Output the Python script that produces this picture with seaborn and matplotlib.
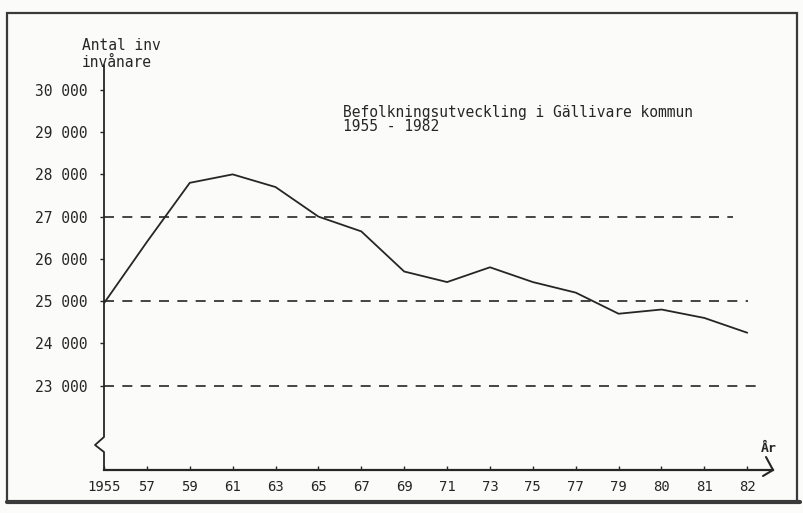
import numpy as np
import pandas as pd
import matplotlib
matplotlib.use("Agg")
import matplotlib.pyplot as plt
from matplotlib.patches import Rectangle
from matplotlib.ticker import FuncFormatter
import seaborn as sns

# data (ticks are evenly spaced, not true years)
years = ["1955", "57", "59", "61", "63", "65", "67", "69",
         "71", "73", "75", "77", "79", "80", "81", "82"]
population = [24950, 26400, 27800, 28000, 27700, 27000, 26650, 25700,
              25450, 25800, 25450, 25200, 24700, 24800, 24600, 24250]
y_ticks = [23000, 24000, 25000, 26000, 27000, 28000, 29000, 30000]
ref_levels = [27000, 25000, 23000]
ref_ends = [14.67, 15.02, 15.26]

title_lines = ["Befolkningsutveckling i Gällivare kommun", "1955 - 1982"]

sns.set_theme(style="white")
plt.rcParams["font.family"] = ["DejaVu Sans Mono", "DejaVu Sans"]

ink = "#262626"
W, H = 804, 513
fig = plt.figure(figsize=(W / 100, H / 100), dpi=100, facecolor="#fbfbfa")
ax = fig.add_axes([104 / W, (H - 470) / H, (773 - 104) / W, (470 - 65) / H])
ax.set_facecolor("none")

df = pd.DataFrame({"pos": np.arange(len(years)), "pop": population})
sns.lineplot(data=df, x="pos", y="pop", ax=ax, color=ink, lw=1.3)

for lvl, end in zip(ref_levels, ref_ends):
    ax.plot([0, end], [lvl, lvl], color=ink, lw=1.2, ls=(0, (6, 5)))

ax.set_xlim(0, 15.6)
ax.set_ylim(21000, 30590)
ax.set_xticks(df["pos"])
ax.set_xticklabels(years)
ax.set_yticks(y_ticks)
ax.yaxis.set_major_formatter(FuncFormatter(lambda v, p: f"{int(v):,}".replace(",", " ")))
ax.set_xlabel("")
ax.set_ylabel("")
ax.tick_params(axis="x", direction="in", length=3, width=1, color=ink,
               labelsize=10, labelcolor=ink, pad=7)
ax.tick_params(axis="y", direction="out", length=3, width=1, color=ink,
               labelsize=10.5, labelcolor=ink, pad=9)
ax.tick_params(bottom=True, left=True)

for s in ["top", "right", "left"]:
    ax.spines[s].set_visible(False)
ax.spines["bottom"].set_color(ink)
ax.spines["bottom"].set_linewidth(1.6)

# y axis with the break mark
aw, ah = 773 - 104, 470 - 65
ax.plot([0, 0, -9 / aw, 0, 0], [1, 33 / ah, 25 / ah, 18 / ah, 0],
        transform=ax.transAxes, color=ink, lw=1.3, clip_on=False)
# arrow head on the x axis
ax.plot([1 - 7 / aw, 1, 1 - 10 / aw], [13 / ah, 0, -6 / ah],
        transform=ax.transAxes, color=ink, lw=1.5, clip_on=False)
fig.text(769 / W, 1 - 449 / H, "År", ha="center", va="center",
         fontsize=9.5, color=ink, fontweight="bold")

fig.text(82 / W, 1 - 45 / H, "Antal inv", va="center", fontsize=10.5, color=ink)
fig.text(82 / W, 1 - 63 / H, "invånare", va="center", fontsize=10.5, color=ink)
for i, line in enumerate(title_lines):
    fig.text(343 / W, 1 - (113 + 14 * i) / H, line, va="center",
             fontsize=10.5, color=ink)

# scanned page frame
fig.add_artist(Rectangle((7 / W, 1 - 502 / H), (797 - 7) / W, (502 - 13) / H,
                         transform=fig.transFigure, fill=False, lw=1.6, ec="#3a3a3a"))
fig.add_artist(plt.Line2D([7 / W, 800 / W], [1 - 502 / H, 1 - 502 / H],
                          transform=fig.transFigure, lw=3, color="#3a3a3a"))

fig.savefig("out.png", dpi=100, facecolor=fig.get_facecolor())
